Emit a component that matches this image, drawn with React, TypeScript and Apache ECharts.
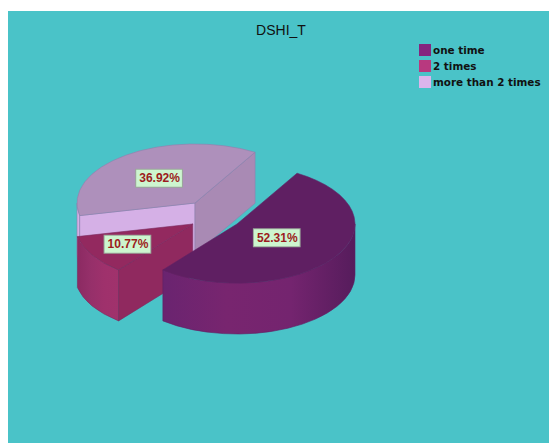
import React, { useEffect, useRef } from "react";
import * as echarts from "echarts";

// Survey result: share of answers per category
const categories = ["one time", "2 times", "more than 2 times"];
const percents = [52.31, 10.77, 36.92];

const W = 549;
const H = 443;
const RX = 118;
const RY = 59;
const DEPTH = 51;
const START_DEG = 59.4; // slices run clockwise from here

// Per-slice look and placement, same order as the categories
const slices = [
  {
    cx: 237, cy: 224, labelAt: 0.41, z: 3,
    swatch: "#84267f", top: "#5f1f62", radial: "#5f1f62", edge: "#5f2264",
    wall: ["#6a2470", "#78256f", "#74246f", "#561c5c"],
  },
  {
    cx: 192.7, cy: 224, labelAt: 0.65, z: 2,
    swatch: "#b8397f", top: "#93295f", radial: "#90295f", edge: "#7a2c60",
    wall: ["#8b2a62", "#96306a", "#9f316c", "#a0326c"],
  },
  {
    cx: 195, cy: 203, labelAt: 0.52, z: 1,
    swatch: "#dcb5ec", top: "#ae90bb", radial: "#a98ab4", edge: "#8f80ac", front: "#d5b0e6",
    wall: ["#d5b0e6", "#d5b0e6", "#d5b0e6", "#d5b0e6"],
  },
];

const rad = (d: number) => (d * Math.PI) / 180;

function ellipsePoint(cx: number, cy: number, deg: number) {
  return [cx + RX * Math.cos(rad(deg)), cy - RY * Math.sin(rad(deg))];
}

// Arc from a to b (degrees) along the ellipse, as an SVG fragment
function arcTo(cx: number, cy: number, a: number, b: number, dy = 0) {
  const [x, y] = ellipsePoint(cx, cy, b);
  const large = Math.abs(b - a) > 180 ? 1 : 0;
  const sweep = b > a ? 0 : 1;
  return `A ${RX} ${RY} 0 ${large} ${sweep} ${x} ${y + dy}`;
}

function makeRenderItem(index: number) {
  return (_params: unknown, api: any) => {
    const s = slices[index] as any;
    const before = percents.slice(0, index).reduce((t, v) => t + v, 0);
    const hi = START_DEG - (before / 100) * 360;
    const lo = hi - (api.value(0) / 100) * 360;
    const children: any[] = [];
    const line = { stroke: s.edge, lineWidth: 0.6 };
    const face = (d: string, fill: unknown) => ({
      type: "path",
      shape: { pathData: d },
      style: { fill, ...line },
    });

    // Cylinder wall: only the part of the rim that faces the viewer
    const wrap = (deg: number) => ((deg % 360) + 360) % 360;
    const ranges: [number, number][] = [];
    const from = wrap(lo);
    const to = from + (hi - lo);
    for (const [p, q] of [[180, 360], [540, 720]]) {
      const a = Math.max(from, p);
      const b = Math.min(to, q);
      if (b > a) ranges.push([a, b]);
    }
    for (const [a, b] of ranges) {
      const [x0, y0] = ellipsePoint(s.cx, s.cy, a);
      const [x1, y1] = ellipsePoint(s.cx, s.cy, b);
      const d =
        `M ${x0} ${y0} ${arcTo(s.cx, s.cy, a, b)} L ${x1} ${y1 + DEPTH} ` +
        `${arcTo(s.cx, s.cy, b, a, DEPTH)} Z`;
      const n = s.wall.length - 1;
      children.push(
        face(
          d,
          new echarts.graphic.LinearGradient(
            0, 0, 1, 0,
            s.wall.map((color: string, i: number) => ({ offset: i / n, color })),
          ),
        ),
      );
    }

    // Flat cut faces of the slice
    const cut = (deg: number, fill: string) => {
      const [x, y] = ellipsePoint(s.cx, s.cy, deg);
      children.push(
        face(
          `M ${s.cx} ${s.cy} L ${x} ${y} L ${x} ${y + DEPTH} L ${s.cx} ${s.cy + DEPTH} Z`,
          fill,
        ),
      );
    };
    if (Math.cos(rad(hi)) < 0) cut(hi, s.front || s.radial);
    if (Math.cos(rad(lo)) > 0) cut(lo, s.radial);

    // Top face
    const [tx, ty] = ellipsePoint(s.cx, s.cy, hi);
    children.push(
      face(
        `M ${s.cx} ${s.cy} L ${tx} ${ty} ${arcTo(s.cx, s.cy, hi, lo)} Z`,
        s.top,
      ),
    );

    // Value tag on the top face
    const mid = (hi + lo) / 2;
    children.push({
      type: "text",
      x: s.cx + s.labelAt * RX * Math.cos(rad(mid)),
      y: s.cy - s.labelAt * RY * Math.sin(rad(mid)),
      style: {
        text: `${api.value(0).toFixed(2)}%`,
        font: 'bold 12px "Liberation Sans", Arial, sans-serif',
        fill: "#9c1c20",
        align: "center",
        verticalAlign: "middle",
        backgroundColor: "#cdf5cf",
        borderColor: "#9aa89a",
        borderWidth: 1,
        padding: [3, 2, 2, 3],
      },
    });
    return { type: "group", children };
  };
}

export default function App() {
  const ref = useRef<HTMLDivElement>(null);
  useEffect(() => {
    const chart = echarts.init(ref.current!, undefined, { renderer: "svg" });
    chart.setOption({
      animation: false,
      backgroundColor: "#ffffff",
      title: {
        text: "DSHI_T",
        left: 276,
        top: 18,
        textAlign: "center",
        textStyle: {
          fontFamily: '"Liberation Sans", Arial, sans-serif',
          fontSize: 14,
          fontWeight: "normal",
          color: "#111111",
        },
      },
      legend: {
        orient: "vertical",
        left: 419,
        top: 44,
        itemWidth: 12,
        itemHeight: 12,
        itemGap: 4,
        icon: "rect",
        padding: 0,
        data: categories,
        textStyle: {
          padding: [0, 0, 0, -3],
          fontFamily: '"DejaVu Sans", sans-serif',
          fontSize: 10.4,
          fontWeight: "bold",
          color: "#111111",
        },
      },
      graphic: [
        {
          type: "rect",
          z: -10,
          shape: { x: 8, y: 11, width: W - 8, height: H - 11 },
          style: { fill: "#4ac3c8" },
        },
      ],
      series: categories.map((name, i) => ({
        type: "custom",
        name,
        coordinateSystem: "none",
        z: slices[i].z,
        itemStyle: { color: slices[i].swatch },
        data: [[percents[i]]],
        renderItem: makeRenderItem(i),
      })),
    });
    return () => chart.dispose();
  }, []);
  return (
    <div
      ref={ref}
      style={{ position: "fixed", left: 0, top: 0, width: W, height: H }}
    />
  );
}
